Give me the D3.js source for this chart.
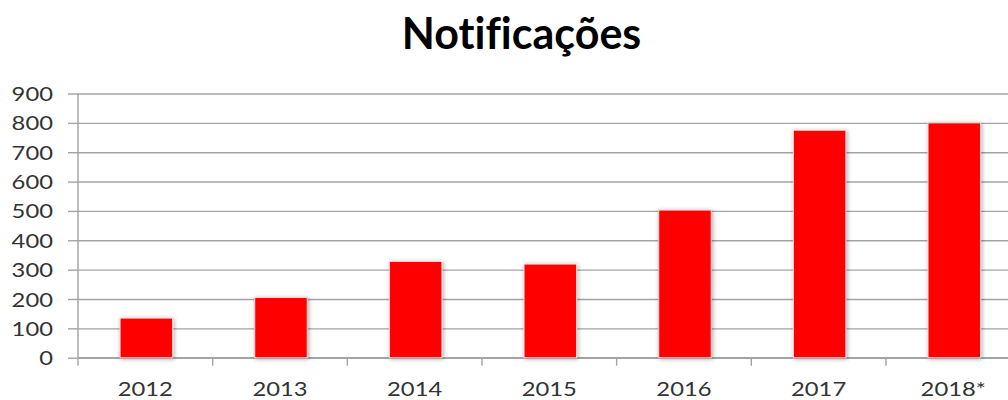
<!DOCTYPE html>
<html>
<head>
<meta charset="utf-8">
<script src="https://cdn.jsdelivr.net/npm/d3@7"></script>
<style>
    body { margin: 0; background: #fff; }
    text { font-family: Lato, "Open Sans", sans-serif; font-variant-ligatures: none; }
</style>
</head>
<body>
<div id="chart"></div>
<script>
// values (2018 is partial, hence the star)
var years = ['2012', '2013', '2014', '2015', '2016', '2017', '2018*'];
var notificacoes = [135, 205, 328, 319, 503, 775, 800];
var y_ticks = [0, 100, 200, 300, 400, 500, 600, 700, 800, 900];
var chart_title = 'Notificações';

var width = 1008, height = 400;
var plot_left = 78, plot_right = 1020.6;
var plot_top = 93.5, plot_bottom = 357.7;

var svg = d3.select('#chart').append('svg')
	.attr('width', width)
	.attr('height', height);

var defs = svg.append('defs');
var shadow = defs.append('filter')
	.attr('id', 'bar_shadow')
	.attr('x', '-20%').attr('y', '-20%')
	.attr('width', '140%').attr('height', '140%');
shadow.append('feDropShadow')
	.attr('dx', 1).attr('dy', 1)
	.attr('stdDeviation', 2)
	.attr('flood-color', '#000')
	.attr('flood-opacity', 0.35);

var x = d3.scaleBand()
	.domain(years)
	.range([plot_left, plot_right])
	.padding(0);

var y = d3.scaleLinear()
	.domain([0, 900])
	.range([plot_bottom, plot_top]);

//horizontal grid lines, drawn as a long left axis
var grid = svg.append('g')
	.attr('transform', 'translate(' + plot_left + ',0)')
	.call(d3.axisLeft(y).tickValues(y_ticks).tickSize(-(width - plot_left)).tickFormat(''));
grid.select('.domain').remove();
grid.selectAll('line').attr('stroke', '#a3a3a3').attr('stroke-width', 1.4);

//little tick marks left of the axis
var y_axis = svg.append('g')
	.attr('transform', 'translate(' + plot_left + ',0)')
	.call(d3.axisLeft(y).tickValues(y_ticks).tickSize(10).tickPadding(25).tickFormat(d3.format('d')));
y_axis.select('.domain').attr('stroke', '#a3a3a3').attr('stroke-width', 1.4)
	.attr('d', 'M0,' + plot_top + 'V' + (plot_bottom + 8));
y_axis.selectAll('line').attr('stroke', '#a3a3a3').attr('stroke-width', 1.4);
y_axis.selectAll('text')
	.attr('fill', '#333')
	.style('font-size', '19.5px')
	.attr('text-anchor', 'end')
	.attr('x', 0)
	.attr('dy', '0.36em')
	.attr('transform', 'translate(-25,0) scale(1.22,1)');

//category boundary ticks below the x axis
var x_axis = svg.append('g')
	.attr('transform', 'translate(0,' + plot_bottom + ')');
x_axis.append('line')
	.attr('x1', plot_left).attr('x2', width)
	.attr('stroke', '#a3a3a3').attr('stroke-width', 1.4);
x_axis.selectAll('line.tick')
	.data(years)
	.join('line')
	.attr('class', 'tick')
	.attr('x1', d => x(d) + x.bandwidth())
	.attr('x2', d => x(d) + x.bandwidth())
	.attr('y1', 0).attr('y2', 8)
	.attr('stroke', '#a3a3a3').attr('stroke-width', 1.4);
x_axis.selectAll('text')
	.data(years)
	.join('text')
	.attr('transform', d => 'translate(' + (x(d) + x.bandwidth() / 2) + ',38) scale(1.22,1)')
	.attr('text-anchor', 'middle')
	.attr('fill', '#333')
	.style('font-size', '19.5px')
	.text(d => d);

//bars
var bar_w = x.bandwidth() * 0.39;
svg.append('g')
	.selectAll('rect')
	.data(years)
	.join('rect')
	.attr('x', d => x(d) + (x.bandwidth() - bar_w) / 2 + 1)
	.attr('y', (d, i) => y(notificacoes[i]))
	.attr('width', bar_w)
	.attr('height', (d, i) => y(0) - y(notificacoes[i]))
	.attr('fill', '#ff0000')
	.attr('stroke', '#ffd6d6')
	.attr('stroke-width', 1)
	.attr('filter', 'url(#bar_shadow)');

svg.append('text')
	.attr('x', 521.5)
	.attr('y', 49)
	.attr('text-anchor', 'middle')
	.attr('fill', '#000')
	.style('font-size', '43px')
	.style('font-weight', 'bold')
	.text(chart_title);
</script>
</body>
</html>
